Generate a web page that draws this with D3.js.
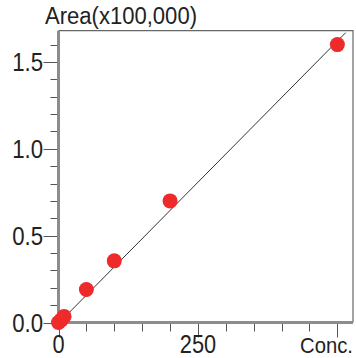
<!DOCTYPE html>
<html><head><meta charset="utf-8">
<script src="https://cdn.jsdelivr.net/npm/d3@7"></script>
<style>html,body{margin:0;padding:0;background:#fff;overflow:hidden}</style>
</head><body>
<svg id="c" width="356" height="358"></svg>
<script>
const concValues = [0, 5, 10, 50, 100, 200, 500];
const areaValues = [0.0, 0.015, 0.035, 0.19, 0.355, 0.70, 1.60];
const fitConc = [0, 515];
const fitArea = [-0.005, 1.669];
const yMajorTicks = [0, 0.5, 1.0, 1.5];
const yTickLabels = ["0.0", "0.5", "1.0", "1.5"];
const xMajorTicks = [0, 250, 500];
const xTickLabels = ["0", "250", ""];
const yMinorTicks = d3.range(0, 1.65, 0.1);
const xMinorTicks = d3.range(0, 501, 50);
const yTitle = "Area(x100,000)";
const xTitle = "Conc.";

const svg = d3.select("#c");
const x = d3.scaleLinear().domain([0, 528]).range([58.5, 353]);
const y = d3.scaleLinear().domain([0, 1.68]).range([322.5, 30.7]);
const font = "'Liberation Sans', Arial, sans-serif";
const sx = 0.87;

// frame top/right
svg.append("path")
  .attr("d", `M${x(0)},${y(1.68)}H${x(528)}V${y(0)}`)
  .attr("fill", "none").attr("stroke", "#666").attr("stroke-width", 1.2);

// y ticks
const gy = svg.append("g");
gy.selectAll("line.mn").data(yMinorTicks).join("line")
  .attr("x1", x(0) - 8).attr("x2", x(0))
  .attr("y1", d => Math.round(y(d)) + 0.5).attr("y2", d => Math.round(y(d)) + 0.5)
  .attr("stroke", "#555").attr("stroke-width", 1);
gy.selectAll("line.mj").data(yMajorTicks).join("line")
  .attr("x1", x(0) - 15).attr("x2", x(0))
  .attr("y1", d => Math.round(y(d)) + 0.5).attr("y2", d => Math.round(y(d)) + 0.5)
  .attr("stroke", "#555").attr("stroke-width", 1);
gy.selectAll("text").data(yMajorTicks).join("text")
  .attr("transform", d => `translate(43,${y(d)}) scale(${sx},1)`)
  .attr("dy", "0.36em")
  .attr("text-anchor", "end").attr("font-family", font).attr("font-size", 25.5)
  .attr("fill", "#222").text((d, i) => yTickLabels[i]);

// x ticks
const gx = svg.append("g");
gx.selectAll("line.mn").data(xMinorTicks).join("line")
  .attr("x1", d => Math.round(x(d)) + 0.5).attr("x2", d => Math.round(x(d)) + 0.5)
  .attr("y1", y(0)).attr("y2", y(0) + 9)
  .attr("stroke", "#555").attr("stroke-width", 1);
gx.selectAll("line.mj").data(xMajorTicks).join("line")
  .attr("x1", d => Math.round(x(d)) + 0.5).attr("x2", d => Math.round(x(d)) + 0.5)
  .attr("y1", y(0)).attr("y2", y(0) + 15)
  .attr("stroke", "#555").attr("stroke-width", 1);
gx.selectAll("text").data(xMajorTicks).join("text")
  .attr("transform", d => `translate(${x(d)},353) scale(${sx},1)`)
  .attr("text-anchor", "middle").attr("font-family", font).attr("font-size", 25)
  .attr("fill", "#222").text((d, i) => xTickLabels[i]);

// axes (thick gray)
svg.append("line").attr("x1", x(0)).attr("x2", x(0)).attr("y1", y(1.68)).attr("y2", y(0) + 1.5)
  .attr("stroke", "#8c8c8c").attr("stroke-width", 3);
svg.append("line").attr("x1", x(0) - 1.5).attr("x2", x(528)).attr("y1", y(0)).attr("y2", y(0))
  .attr("stroke", "#8c8c8c").attr("stroke-width", 3);

// fit line
svg.append("path")
  .datum(fitConc.map((c, i) => [c, fitArea[i]]))
  .attr("d", d3.line().x(d => x(d[0])).y(d => y(d[1])))
  .attr("fill", "none").attr("stroke", "#333").attr("stroke-width", 1);

// points
svg.selectAll("circle").data(concValues).join("circle")
  .attr("cx", d => x(d)).attr("cy", (d, i) => y(areaValues[i]))
  .attr("r", 7.5).attr("fill", "#ee2a2a");

// titles
svg.append("text").attr("x", 45).attr("y", 24).attr("font-family", font).attr("font-size", 23)
  .attr("textLength", 152).attr("lengthAdjust", "spacingAndGlyphs")
  .attr("fill", "#222").text(yTitle);
svg.append("text").attr("transform", "translate(353,353) scale(0.9,1)").attr("text-anchor", "end")
  .attr("font-family", font).attr("font-size", 22.5)
  .attr("fill", "#222").text(xTitle);
</script>
</body></html>
